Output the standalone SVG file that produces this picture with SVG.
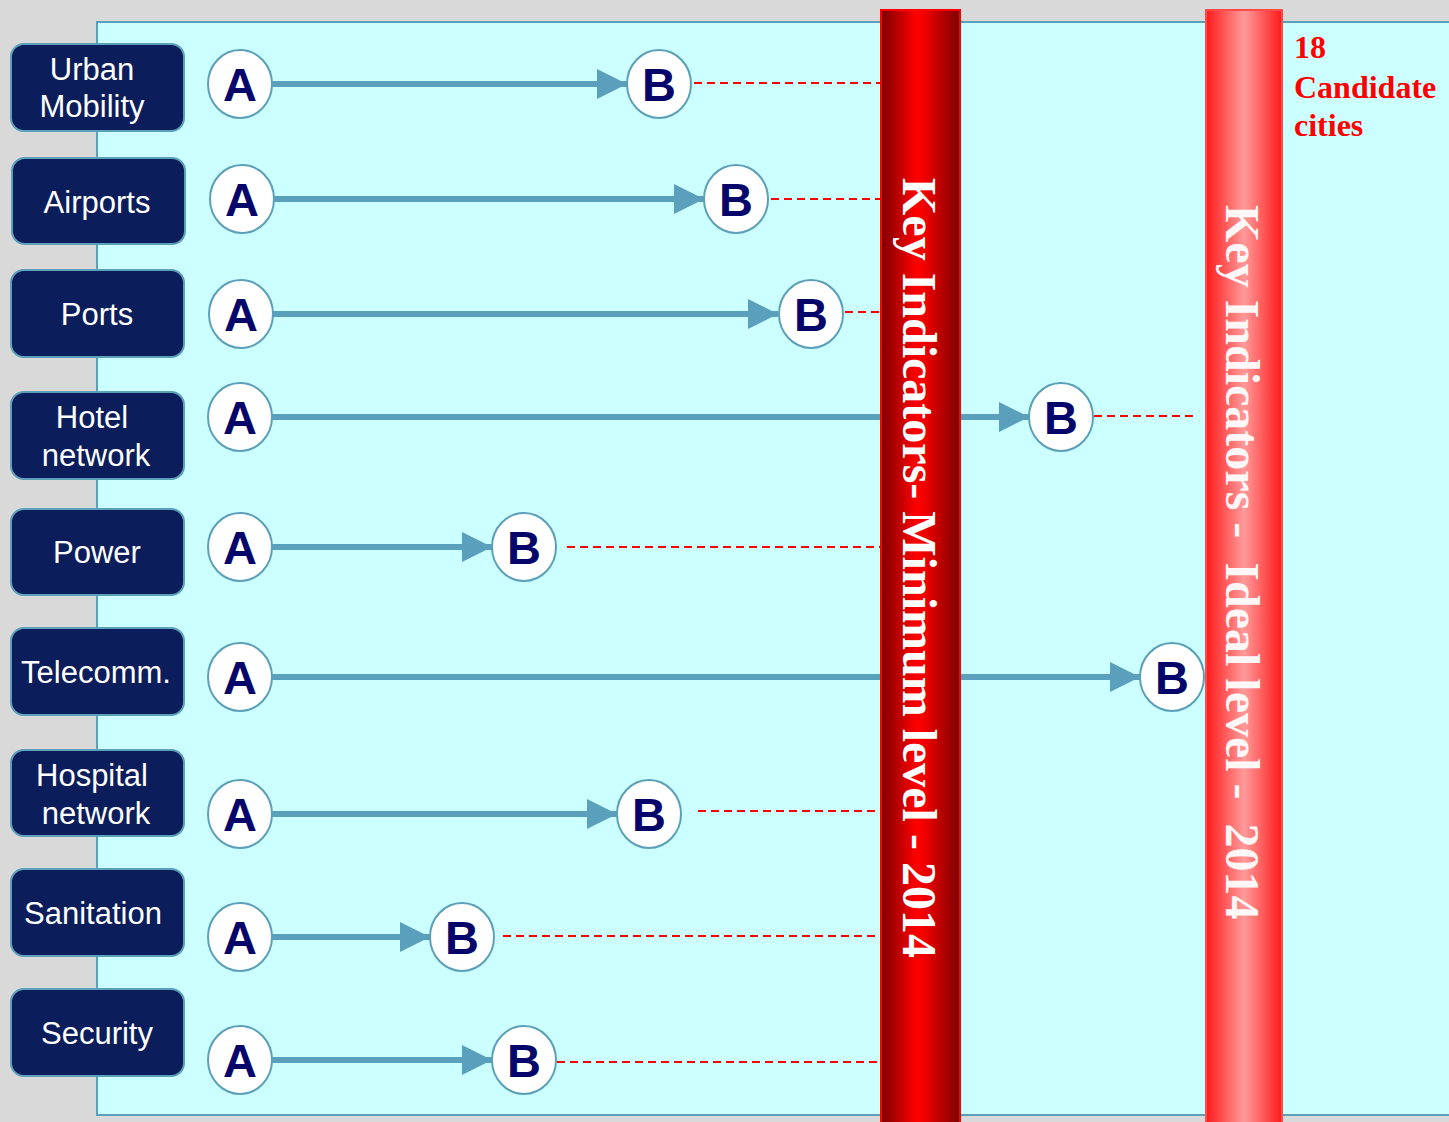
<svg xmlns="http://www.w3.org/2000/svg" width="1449" height="1122" viewBox="0 0 1449 1122">
<style>
.node rect{fill:#0b1e5b;stroke:#5b9fb8;stroke-width:2}
.node text{fill:#fff;font-family:"Liberation Sans",Arial,sans-serif;font-size:31px;text-anchor:middle}
.pt ellipse{fill:#fff;stroke:#5b9fb8;stroke-width:2}
.pt text{fill:#06066a;font-family:"Liberation Sans",Arial,sans-serif;font-size:47px;font-weight:bold;text-anchor:middle}
.arrow{stroke:#5a9fbb;stroke-width:6;fill:none;marker-end:url(#ah)}
.dash{stroke:#ff0000;stroke-width:2;stroke-dasharray:8 5;fill:none}
.vt{fill:#fff;font-family:"Liberation Serif","Times New Roman",serif;font-size:48px;font-weight:bold}
</style>
<defs>
<marker id="ah" markerUnits="userSpaceOnUse" markerWidth="30" markerHeight="30" refX="30" refY="15" orient="auto" viewBox="0 0 30 30">
<path d="M0,0 L30,15 L0,30 Z" fill="#5a9fbb"/>
</marker>
<linearGradient id="g1" x1="0" y1="0" x2="1" y2="0">
<stop offset="0" stop-color="#7a0000"/>
<stop offset="0.45" stop-color="#ff0000"/>
<stop offset="0.55" stop-color="#f00000"/>
<stop offset="1" stop-color="#7a0000"/>
</linearGradient>
<linearGradient id="g2" x1="0" y1="0" x2="1" y2="0">
<stop offset="0" stop-color="#ff1a1a"/>
<stop offset="0.5" stop-color="#ff9a9a"/>
<stop offset="1" stop-color="#ff1a1a"/>
</linearGradient>
</defs>
<rect x="0" y="0" width="1449" height="1122" fill="#d9d9d9"/>
<rect x="97" y="22" width="1360" height="1093" fill="#ccffff" stroke="#5b9fb8" stroke-width="2"/>

<g id="connectors">
<line class="arrow" x1="272" y1="84" x2="627" y2="84"/>
<line class="arrow" x1="274" y1="199" x2="704" y2="199"/>
<line class="arrow" x1="273" y1="314" x2="778" y2="314"/>
<line class="arrow" x1="272" y1="417" x2="1029" y2="417"/>
<line class="arrow" x1="272" y1="547" x2="492" y2="547"/>
<line class="arrow" x1="272" y1="677" x2="1140" y2="677"/>
<line class="arrow" x1="272" y1="814" x2="617" y2="814"/>
<line class="arrow" x1="272" y1="937" x2="430" y2="937"/>
<line class="arrow" x1="272" y1="1060" x2="492" y2="1060"/>
<line class="dash" x1="694" y1="83" x2="880" y2="83"/>
<line class="dash" x1="771" y1="199" x2="880" y2="199"/>
<line class="dash" x1="845" y1="312" x2="880" y2="312"/>
<line class="dash" x1="1094" y1="416" x2="1198" y2="416"/>
<line class="dash" x1="567" y1="547" x2="880" y2="547"/>
<line class="dash" x1="698" y1="811" x2="876" y2="811"/>
<line class="dash" x1="503" y1="936" x2="877" y2="936"/>
<line class="dash" x1="557" y1="1062" x2="880" y2="1062"/>
</g>

<g id="bar-minimum">
<rect x="881" y="10" width="79" height="1114" fill="url(#g1)" stroke="#ff0000" stroke-width="2"/>
<text class="vt" transform="translate(903,178) rotate(90)">Key Indicators- Minimum level - 2014</text>
</g>
<g id="bar-ideal">
<rect x="1206" y="10" width="76" height="1114" fill="url(#g2)" stroke="#ff4a4a" stroke-width="2"/>
<text class="vt" fill-opacity="0.95" transform="translate(1226,205) rotate(90)" xml:space="preserve">Key Indicators -  Ideal level -  2014</text>
</g>

<g id="candidates">
<text font-family="'Liberation Serif','Times New Roman',serif" font-size="32" font-weight="bold" fill="#ff0000">
<tspan x="1294" y="58">18</tspan>
<tspan x="1294" y="98">Candidate</tspan>
<tspan x="1294" y="136">cities</tspan>
</text>
</g>

<g id="urban-mobility" class="node"><rect x="11" y="44" width="173" height="87" rx="13"/><text x="92" y="80">Urban</text><text x="92" y="117">Mobility</text></g>
<g id="airports" class="node"><rect x="12" y="158" width="173" height="86" rx="13"/><text x="97" y="213">Airports</text></g>
<g id="ports" class="node"><rect x="11" y="270" width="173" height="87" rx="13"/><text x="97" y="325">Ports</text></g>
<g id="hotel-network" class="node"><rect x="11" y="392" width="173" height="87" rx="13"/><text x="92" y="428">Hotel</text><text x="96" y="466">network</text></g>
<g id="power" class="node"><rect x="11" y="509" width="173" height="86" rx="13"/><text x="97" y="563">Power</text></g>
<g id="telecomm" class="node"><rect x="11" y="628" width="173" height="87" rx="13"/><text x="96" y="683">Telecomm.</text></g>
<g id="hospital-network" class="node"><rect x="11" y="750" width="173" height="86" rx="13"/><text x="92" y="786">Hospital</text><text x="96" y="824">network</text></g>
<g id="sanitation" class="node"><rect x="11" y="869" width="173" height="87" rx="13"/><text x="93" y="924">Sanitation</text></g>
<g id="security" class="node"><rect x="11" y="989" width="173" height="87" rx="13"/><text x="97" y="1044">Security</text></g>

<g id="a1" class="pt"><ellipse cx="240" cy="84" rx="32" ry="34"/><text x="240" y="101">A</text></g>
<g id="b1" class="pt"><ellipse cx="659" cy="84" rx="32" ry="34"/><text x="659" y="101">B</text></g>
<g id="a2" class="pt"><ellipse cx="242" cy="199" rx="32" ry="34"/><text x="242" y="216">A</text></g>
<g id="b2" class="pt"><ellipse cx="736" cy="199" rx="32" ry="34"/><text x="736" y="216">B</text></g>
<g id="a3" class="pt"><ellipse cx="241" cy="314" rx="32" ry="34"/><text x="241" y="331">A</text></g>
<g id="b3" class="pt"><ellipse cx="811" cy="314" rx="32" ry="34"/><text x="811" y="331">B</text></g>
<g id="a4" class="pt"><ellipse cx="240" cy="417" rx="32" ry="34"/><text x="240" y="434">A</text></g>
<g id="b4" class="pt"><ellipse cx="1061" cy="417" rx="32" ry="34"/><text x="1061" y="434">B</text></g>
<g id="a5" class="pt"><ellipse cx="240" cy="547" rx="32" ry="34"/><text x="240" y="564">A</text></g>
<g id="b5" class="pt"><ellipse cx="524" cy="547" rx="32" ry="34"/><text x="524" y="564">B</text></g>
<g id="a6" class="pt"><ellipse cx="240" cy="677" rx="32" ry="34"/><text x="240" y="694">A</text></g>
<g id="b6" class="pt"><ellipse cx="1172" cy="677" rx="32" ry="34"/><text x="1172" y="694">B</text></g>
<g id="a7" class="pt"><ellipse cx="240" cy="814" rx="32" ry="34"/><text x="240" y="831">A</text></g>
<g id="b7" class="pt"><ellipse cx="649" cy="814" rx="32" ry="34"/><text x="649" y="831">B</text></g>
<g id="a8" class="pt"><ellipse cx="240" cy="937" rx="32" ry="34"/><text x="240" y="954">A</text></g>
<g id="b8" class="pt"><ellipse cx="462" cy="937" rx="32" ry="34"/><text x="462" y="954">B</text></g>
<g id="a9" class="pt"><ellipse cx="240" cy="1060" rx="32" ry="34"/><text x="240" y="1077">A</text></g>
<g id="b9" class="pt"><ellipse cx="524" cy="1060" rx="32" ry="34"/><text x="524" y="1077">B</text></g>
</svg>
